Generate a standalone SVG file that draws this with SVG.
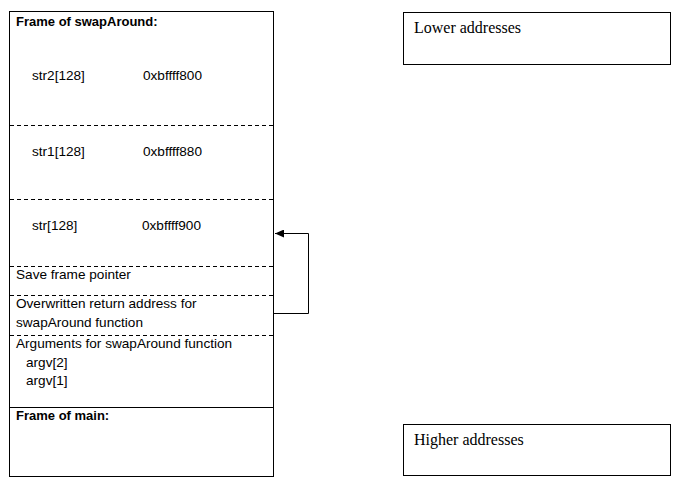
<svg xmlns="http://www.w3.org/2000/svg" width="682" height="491" viewBox="0 0 682 491">
<defs>
<style>
.box{fill:#fff;stroke:#000;stroke-width:1}
.dash{stroke:#000;stroke-width:1;stroke-dasharray:4,3;fill:none}
.t{font-family:"Liberation Sans",Arial,sans-serif;font-size:13.6px;fill:#000}
.b{font-weight:bold;font-size:13px}
.s{font-family:"Liberation Serif","Times New Roman",serif;font-size:16px;fill:#000}
.conn{stroke:#000;stroke-width:1;fill:none}
</style>
<marker id="ah" markerWidth="10" markerHeight="8" refX="9" refY="4" orient="auto" markerUnits="userSpaceOnUse">
<path d="M0,0 L9,4 L0,8 Z" fill="#000"/>
</marker>
</defs>
<rect width="682" height="491" fill="#fff"/>
<g id="stack">
<rect class="box" x="9.5" y="11.5" width="264" height="465"/>
<line class="dash" x1="10" y1="125.5" x2="273" y2="125.5"/>
<line class="dash" x1="10" y1="199.5" x2="273" y2="199.5"/>
<line class="dash" x1="10" y1="266.5" x2="273" y2="266.5"/>
<line class="dash" x1="10" y1="295.5" x2="273" y2="295.5"/>
<line class="dash" x1="10" y1="335.5" x2="273" y2="335.5"/>
<line stroke="#000" x1="10" y1="407.5" x2="273" y2="407.5"/>
</g>
<g id="frame-swap"><text class="t b" x="16" y="26">Frame of swapAround:</text></g>
<g id="str2"><text class="t" x="32" y="80">str2[128]</text><text class="t" x="143" y="80">0xbffff800</text></g>
<g id="str1"><text class="t" x="32" y="156">str1[128]</text><text class="t" x="143" y="156">0xbffff880</text></g>
<g id="str"><text class="t" x="32" y="230">str[128]</text><text class="t" x="142" y="230">0xbffff900</text></g>
<g id="sfp"><text class="t" x="16" y="279">Save frame pointer</text></g>
<g id="ret"><text class="t" x="16" y="308">Overwritten return address for</text><text class="t" x="16" y="327">swapAround function</text></g>
<g id="args"><text class="t" x="16" y="348">Arguments for swapAround function</text><text class="t" x="26" y="367">argv[2]</text><text class="t" x="26" y="385">argv[1]</text></g>
<g id="frame-main"><text class="t b" x="16" y="420">Frame of main:</text></g>
<g id="lower"><rect class="box" x="403.5" y="12.5" width="267" height="52"/><text class="s" x="414" y="33">Lower addresses</text></g>
<g id="higher"><rect class="box" x="403.5" y="424.5" width="267" height="51"/><text class="s" x="414" y="445">Higher addresses</text></g>
<g id="connectors">
<path class="conn" d="M274,313.5 H308.5 V233.5 H275" marker-end="url(#ah)"/>
</g>
</svg>
